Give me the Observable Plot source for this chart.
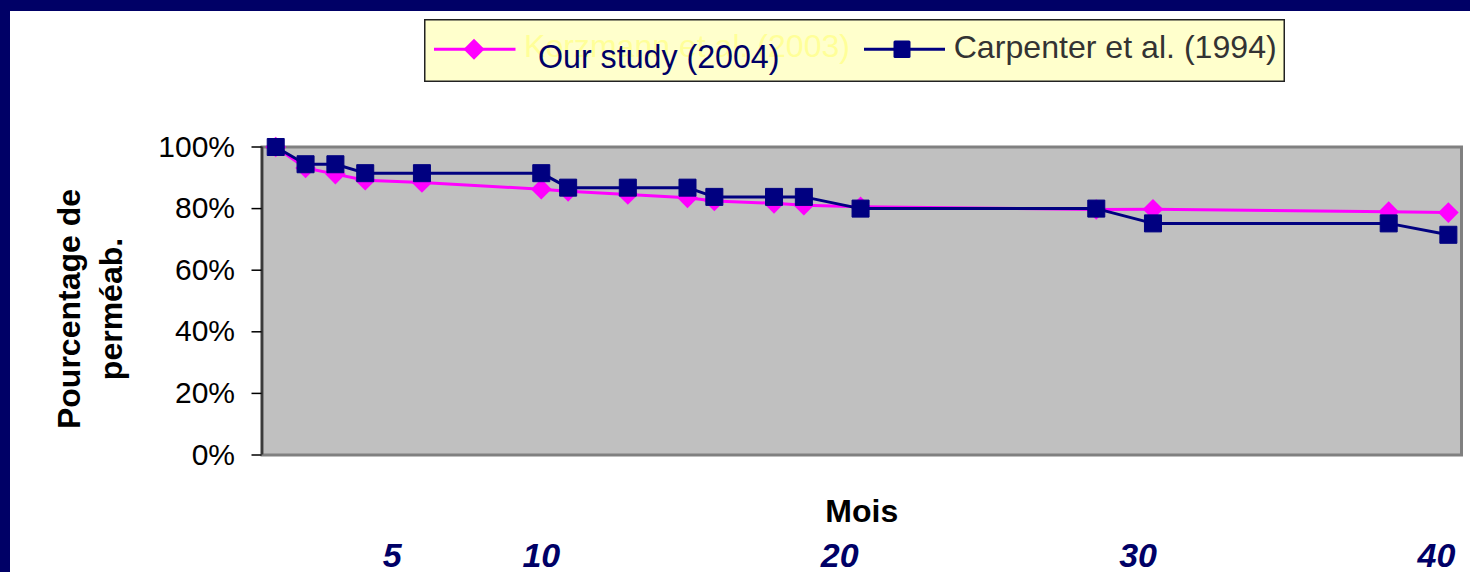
<!DOCTYPE html>
<html><head><meta charset="utf-8">
<script src="https://cdn.jsdelivr.net/npm/d3@7"></script>
<script src="https://cdn.jsdelivr.net/npm/@observablehq/plot@0.6"></script>
<style>
html,body{margin:0;padding:0;background:#fff;width:1470px;height:572px;overflow:hidden;position:relative;font-family:"Liberation Sans",Arial,sans-serif}
#chart{position:absolute;left:0;top:0}
.band{position:absolute;background:#000066}
#legend{position:absolute;left:424px;top:19px;width:861px;height:63px}
</style></head><body>
<div id="chart"></div>
<div id="legend"></div>
<div class="band" style="left:0;top:0;width:1470px;height:11px"></div>
<div class="band" style="left:0;top:0;width:10px;height:572px"></div>
<script>
// Months (read against the 5/10/20/30/40 labels under the chart)
const months = [1.1, 2.1, 3.1, 4.1, 6.0, 10.0, 10.9, 12.9, 14.9, 15.8, 17.8, 18.8, 20.7, 28.6, 30.5, 38.4, 40.4];
// Percentage of patency
const ourStudy  = [100, 93.2, 91.2, 89.2, 88.5, 86.3, 85.6, 84.6, 83.5, 82.5, 81.7, 81.1, 80.6, 79.7, 79.8, 79.0, 78.7];
const carpenter = [100, 94.4, 94.4, 91.5, 91.5, 91.5, 86.8, 86.8, 86.8, 83.8, 83.8, 83.8, 80.0, 80.0, 75.2, 75.2, 71.5];
const xTicks = [5, 10, 20, 30, 40];
const yTicks = [0, 20, 40, 60, 80, 100];
const seriesNames = ["Our study (2004)", "Carpenter et al. (1994)"];
const ghostName = "Korzmann et al. (2003)";
const xTitle = "Mois";
const yTitle = ["Pourcentage de", "perméab."];
const xDomain = [0.64, 40.84];

const FONT = '"Liberation Sans", Arial, Helvetica, sans-serif';
const PINK = "#ff00ff", NAVY = "#000080";

const ours = months.map((m, i) => ({m, v: ourStudy[i]}));
const carp = months.map((m, i) => ({m, v: carpenter[i]}));

const chart = Plot.plot({
  width: 1470, height: 572,
  marginTop: 146.5, marginBottom: 117.5, marginLeft: 261.5, marginRight: 9,
  style: {background: "transparent", fontFamily: FONT, color: "#000", overflow: "visible"},
  x: {domain: xDomain},
  y: {domain: [0, 100]},
  marks: [
    Plot.frame({fill: "#c0c0c0", stroke: "#808080", strokeWidth: 3}),
    Plot.ruleX([xDomain[0]], {stroke: "#3a3a3a", strokeWidth: 2.5}),
    Plot.axisY({ticks: yTicks, tickFormat: d => d + "%", tickSize: 10, tickPadding: 17, fontSize: 30, strokeWidth: 1.5, label: null}),
    Plot.axisX({ticks: xTicks, tickSize: 0, tickPadding: 88, fontSize: 34, fontWeight: "bold", fontStyle: "italic", fill: "#000066", label: null}),
    Plot.text([xTitle], {text: d => d, frameAnchor: "bottom", lineAnchor: "middle", dy: 56.3, fontSize: 32, fontWeight: "bold", fill: "#000"}),
    Plot.text([yTitle[0]], {text: d => d, frameAnchor: "left", lineAnchor: "middle", textAnchor: "middle", rotate: -90, dx: -192.7, dy: 8, fontSize: 32, fontWeight: "bold", fill: "#000"}),
    Plot.text([yTitle[1]], {text: d => d, frameAnchor: "left", lineAnchor: "middle", textAnchor: "middle", rotate: -90, dx: -150, dy: 8, fontSize: 32, fontWeight: "bold", fill: "#000"}),
    Plot.line(ours, {x: "m", y: "v", stroke: PINK, strokeWidth: 3}),
    Plot.dot(ours, {x: "m", y: "v", symbol: "diamond2", r: 9.3, fill: PINK, stroke: "none"}),
    Plot.line(carp, {x: "m", y: "v", stroke: NAVY, strokeWidth: 3}),
    Plot.dot(carp, {x: "m", y: "v", symbol: "square", r: 9.6, fill: NAVY, stroke: NAVY, strokeWidth: 1, strokeLinejoin: "round"})
  ]
});
document.getElementById("chart").appendChild(chart);

// Legend box
const diamond = (cx, cy, h) => `M${cx},${cy - h}L${cx + h},${cy}L${cx},${cy + h}L${cx - h},${cy}Z`;
document.getElementById("legend").innerHTML = `
<svg width="861" height="63" style="display:block;overflow:visible;font-family:${FONT.replace(/"/g, "'")}">
  <rect x="0.75" y="0.75" width="859.5" height="61.5" fill="#ffffcc" stroke="#222" stroke-width="1.5"/>
  <line x1="10" x2="91.5" y1="30.3" y2="30.3" stroke="${PINK}" stroke-width="3"/>
  <path d="${diamond(50, 30.3, 10.5)}" fill="${PINK}"/>
  <text x="100" y="38" font-size="32" fill="#ffff99" textLength="326" lengthAdjust="spacingAndGlyphs">${ghostName}</text>
  <text x="114" y="49.3" font-size="33" fill="#000066" textLength="241.5" lengthAdjust="spacingAndGlyphs">${seriesNames[0]}</text>
  <line x1="440" x2="521" y1="30.3" y2="30.3" stroke="${NAVY}" stroke-width="3"/>
  <rect x="469.5" y="21.5" width="17" height="17.5" rx="1.5" fill="${NAVY}"/>
  <text x="529.7" y="39.3" font-size="32" fill="#333333" textLength="323" lengthAdjust="spacingAndGlyphs">${seriesNames[1]}</text>
</svg>`;
</script>
</body></html>
